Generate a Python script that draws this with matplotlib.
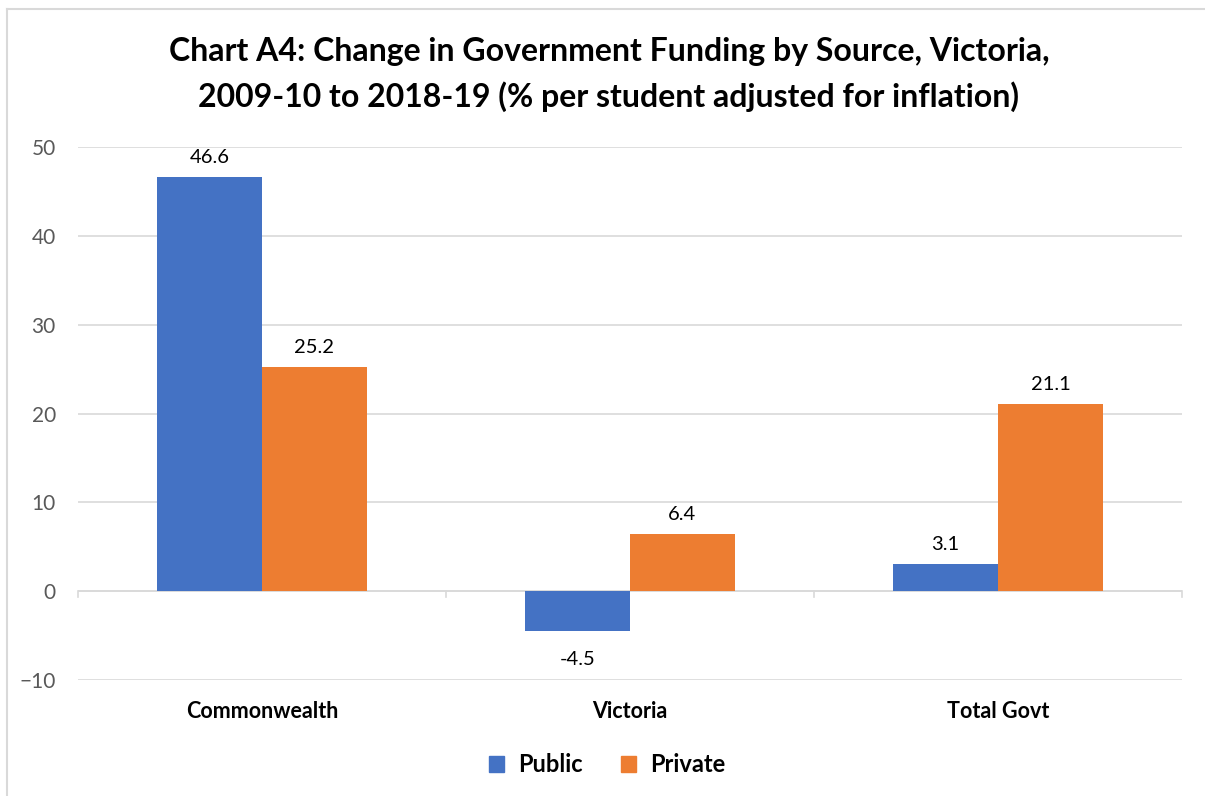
import matplotlib.pyplot as plt
import numpy as np
from matplotlib.lines import Line2D
from matplotlib.patches import Patch

categories = ['Commonwealth', 'Victoria', 'Total Govt']
public = [46.6, -4.5, 3.1]
private = [25.2, 6.4, 21.1]
series_names = ['Public', 'Private']
colors = ['#4472C4', '#ED7D31']
yticks = [-10, 0, 10, 20, 30, 40, 50]

plt.rcParams['font.family'] = ['Lato', 'DejaVu Sans']

fig = plt.figure(figsize=(12.05, 7.96), dpi=100)
W, H = 1205, 796
ax = fig.add_axes([78 / W, 1 - 680 / H, (1182 - 78) / W, (680 - 147) / H])

x = np.arange(len(categories))
bw = 0.285
b1 = ax.bar(x - bw / 2, public, bw, color=colors[0], zorder=3)
b2 = ax.bar(x + bw / 2, private, bw, color=colors[1], zorder=3)

for bars in (b1, b2):
    for r in bars:
        v = r.get_height()
        if v >= 0:
            ax.annotate(f'{v:.1f}', (r.get_x() + r.get_width() / 2, v), xytext=(0, 8),
                        textcoords='offset points', ha='center', va='bottom', fontsize=14.5)
        else:
            ax.annotate(f'{v:.1f}', (r.get_x() + r.get_width() / 2, v), xytext=(0, -14),
                        textcoords='offset points', ha='center', va='top', fontsize=14.5)

ax.set_xlim(-0.5, 2.5)
ax.set_ylim(-10, 50)
ax.set_yticks(yticks)
ax.tick_params(axis='y', length=0, labelsize=15, labelcolor='#595959', pad=16)
ax.set_xticks(x)
ax.set_xticklabels(categories, fontsize=15.5, fontweight='bold')
ax.tick_params(axis='x', length=0, pad=15)
ax.grid(axis='y', color='#D9D9D9', linewidth=1.2, zorder=0)
for s in ax.spines.values():
    s.set_visible(False)
ax.axhline(0, color='#D9D9D9', linewidth=1.2, zorder=2)
for b in [-0.5, 0.5, 1.5, 2.5]:
    ax.plot([b, b], [0, -0.7], color='#D9D9D9', linewidth=1.2, clip_on=False, zorder=2)

fig.text(609 / W, 1 - 52 / H, 'Chart A4: Change in Government Funding by Source, Victoria,',
         ha='center', va='center', fontsize=23, fontweight='bold')
fig.text(609 / W, 1 - 97 / H, '2009-10 to 2018-19 (% per student adjusted for inflation)',
         ha='center', va='center', fontsize=23, fontweight='bold')

handles = [Patch(color=c) for c in colors]
leg = fig.legend(handles, series_names, loc='center', bbox_to_anchor=(607 / W, 1 - 765 / H),
                 ncol=2, frameon=False, prop={'size': 17, 'weight': 'bold'},
                 handlelength=0.65, handleheight=0.65, columnspacing=1.6, handletextpad=0.6)

# chart border (left and top visible)
fig.add_artist(Line2D([7 / W, 7 / W], [0, 1 - 9 / H], color='#D9D9D9', linewidth=1.5))
fig.add_artist(Line2D([7 / W, 1], [1 - 9 / H, 1 - 9 / H], color='#D9D9D9', linewidth=1.5))

fig.savefig('out.png', dpi=100, facecolor='white')
